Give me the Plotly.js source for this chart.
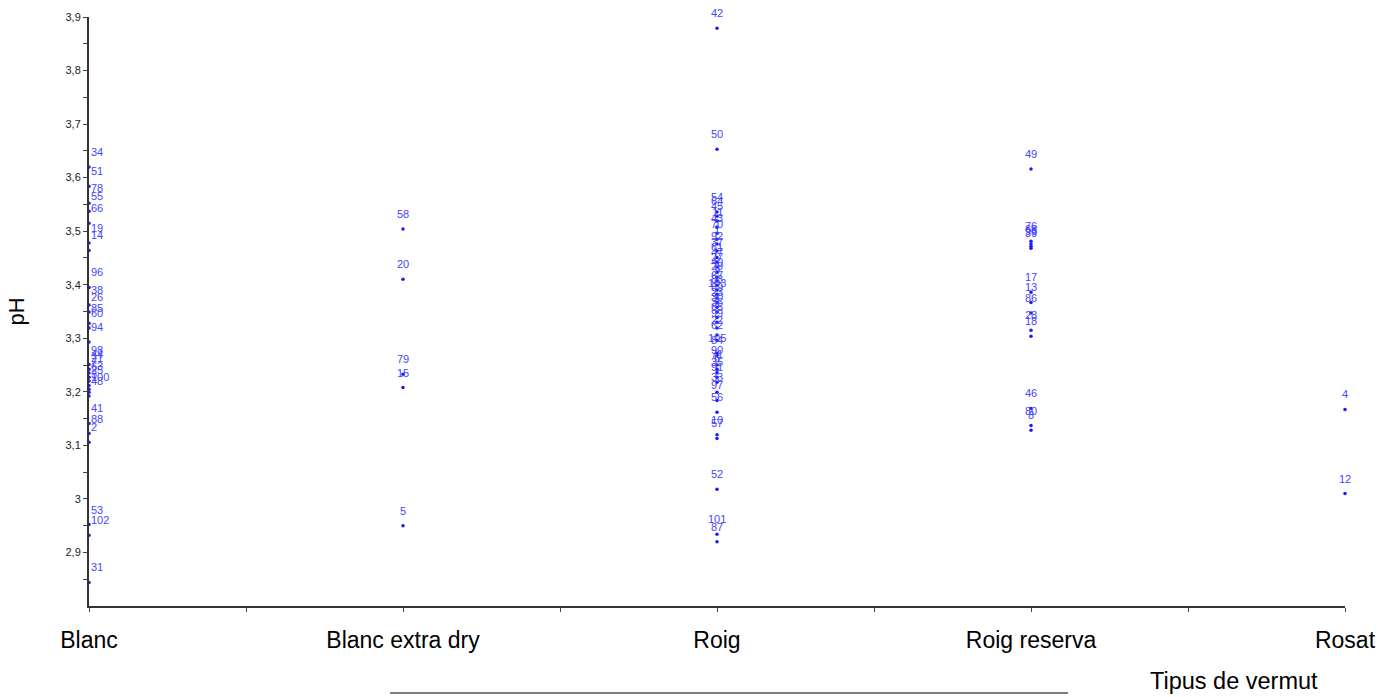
<!DOCTYPE html>
<html>
<head>
<meta charset="utf-8">
<script src="https://cdn.plot.ly/plotly-3.0.1.min.js"></script>
<style>
  html, body { margin: 0; padding: 0; background: #fff; }
  #chart { width: 1381px; height: 697px; }
</style>
</head>
<body>
<div id="chart"></div>
<script>
// Vermouth types along the x axis
const categories = ["Blanc", "Blanc extra dry", "Roig", "Roig reserva", "Rosat"];

// pH of each sample and its sample number, per type
const blancPH = [3.620, 3.584, 3.552, 3.537, 3.515, 3.478, 3.464, 3.395, 3.362, 3.349,
                 3.328, 3.319, 3.293, 3.251, 3.242, 3.235, 3.227, 3.220, 3.212, 3.205,
                 3.199, 3.192, 3.141, 3.122, 3.106, 2.952, 2.932, 2.844];
const blancId = [34, 51, 78, 55, 66, 19, 14, 96, 38, 26,
                 85, 60, 94, 98, 44, 21, 7, 63, 25, 3,
                 100, 48, 41, 88, 2, 53, 102, 31];

const extraDryPH = [3.504, 3.410, 3.233, 3.208, 2.950];
const extraDryId = [58, 20, 79, 15, 5];

const roigPH = [3.879, 3.653, 3.536, 3.528, 3.519, 3.507, 3.496, 3.485, 3.476, 3.463,
                3.451, 3.442, 3.433, 3.423, 3.414, 3.407, 3.399, 3.390, 3.382, 3.375,
                3.367, 3.358, 3.349, 3.339, 3.330, 3.319, 3.306, 3.296, 3.272, 3.268,
                3.250, 3.242, 3.236, 3.227, 3.218, 3.199, 3.184, 3.162, 3.120, 3.113,
                3.018, 2.934, 2.920];
const roigId = [42, 50, 54, 64, 45, 11, 43, 70, 1, 92,
                37, 61, 47, 27, 40, 29, 9, 67, 83, 103,
                89, 23, 30, 36, 65, 99, 22, 62, 105, 84,
                90, 71, 6, 35, 91, 33, 97, 56, 10, 57,
                52, 101, 87];

const reservaPH = [3.616, 3.481, 3.476, 3.472, 3.468, 3.386, 3.367, 3.347, 3.315, 3.304,
                   3.169, 3.137, 3.128];
const reservaId = [49, 76, 68, 95, 39, 17, 13, 86, 28, 18,
                   46, 80, 8];

const rosatPH = [3.167, 3.010];
const rosatId = [4, 12];

// y axis tick values
const yTicks = [2.9, 3.0, 3.1, 3.2, 3.3, 3.4, 3.5, 3.6, 3.7, 3.8, 3.9];

const groups = [
  { pos: 0, ph: blancPH, id: blancId },
  { pos: 1, ph: extraDryPH, id: extraDryId },
  { pos: 2, ph: roigPH, id: roigId },
  { pos: 3, ph: reservaPH, id: reservaId },
  { pos: 4, ph: rosatPH, id: rosatId }
];

const pointColor = "#1a1aff";
const labelColor = "rgb(70,70,255)";
const bigFont = "Liberation Sans, Arial, sans-serif";

const traces = groups.map(g => ({
  type: "scatter",
  mode: "markers",
  x: g.ph.map(() => g.pos),
  y: g.ph,
  text: g.id.map(String),
  marker: { color: pointColor, size: 3.5 },
  cliponaxis: false,
  hoverinfo: "text+y",
  showlegend: false
}));

// sample number labels sitting just above each point
const annotations = [];
groups.forEach(g => {
  g.ph.forEach((v, i) => {
    const first = g.pos === 0;
    annotations.push({
      x: g.pos, y: v, xref: "x", yref: "y",
      text: String(g.id[i]),
      showarrow: false,
      xanchor: first ? "left" : "center",
      yanchor: "middle",
      yshift: 15,
      font: { family: "Liberation Sans, Arial, sans-serif", size: 11, color: labelColor }
    });
  });
});

annotations.push({
  x: 0.912, y: -0.127, xref: "paper", yref: "paper",
  text: "Tipus de vermut", showarrow: false,
  xanchor: "center", yanchor: "middle",
  font: { family: bigFont, size: 23.5, color: "#000" }
});

const layout = {
  width: 1381, height: 697,
  margin: { l: 89, r: 36, t: 17, b: 91 },
  paper_bgcolor: "#fff", plot_bgcolor: "#fff",
  separators: ", ",
  showlegend: false,
  xaxis: {
    range: [0, 4],
    tickmode: "array",
    tickvals: categories.map((_, i) => i),
    ticktext: categories,
    showgrid: false, zeroline: false,
    showline: true, linecolor: "#333", linewidth: 1.5,
    ticks: "outside", ticklen: 4, tickcolor: "#444",
    ticklabelstandoff: 9,
    tickfont: { family: bigFont, size: 23, color: "#000" },
    minor: { tickmode: "array", tickvals: [0.5, 1.5, 2.5, 3.5], ticks: "outside", ticklen: 4, tickcolor: "#444" }
  },
  yaxis: {
    range: [2.8, 3.9],
    tickmode: "array",
    tickvals: yTicks,
    showgrid: false, zeroline: false,
    showline: true, linecolor: "#333", linewidth: 2,
    ticks: "outside", ticklen: 4, tickcolor: "#444",
    tickfont: { family: "Liberation Sans, Arial, sans-serif", size: 11, color: "#222" },
    minor: { tickmode: "linear", tick0: 2.85, dtick: 0.1, ticks: "outside", ticklen: 4, tickcolor: "#444" },
    title: {
      text: "pH", standoff: 35,
      font: { family: bigFont, size: 22, color: "#000" }
    }
  },
  annotations: annotations,
  shapes: [{
    type: "line", xref: "paper", yref: "paper",
    x0: 0.2397, x1: 0.7795, y0: -0.1477, y1: -0.1477,
    line: { color: "#000", width: 1.2 }
  }]
};

Plotly.newPlot("chart", traces, layout, { displayModeBar: false, responsive: false });
</script>
</body>
</html>
